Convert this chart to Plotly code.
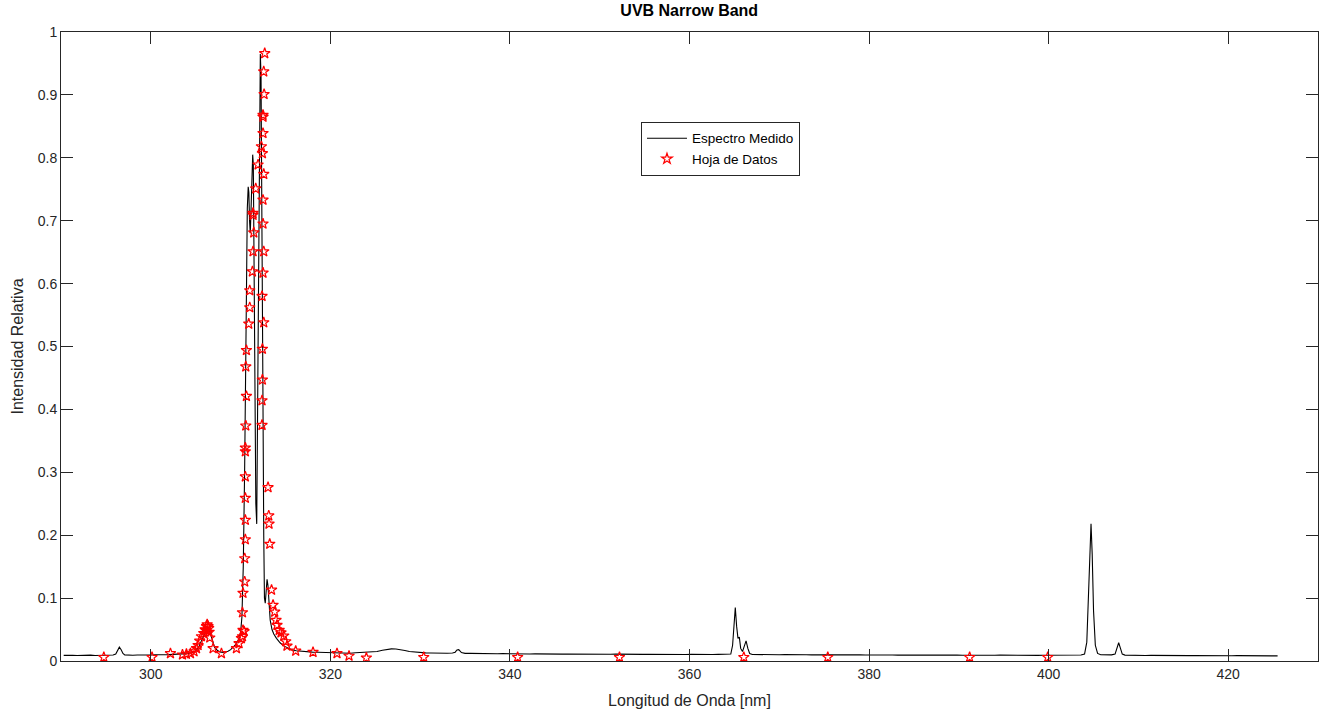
import plotly.graph_objects as go

# Espectro medido: longitud de onda [nm] e intensidad relativa
wl_medido = [
    290.3, 290.8, 291.3, 291.8, 292.3, 292.8, 293.3, 293.8, 294.3, 294.8,
    295.3, 295.8, 296.1, 296.3, 296.5, 296.7, 296.9, 297.1, 297.5, 298.0,
    298.5, 299.0, 299.5, 300.0, 300.5, 301.0, 301.5, 302.0, 302.5, 303.0,
    303.5, 304.0, 304.5, 305.0, 305.3, 305.6, 305.9, 306.1, 306.3, 306.5,
    306.7, 306.9, 307.1, 307.4, 307.7, 308.0, 308.3, 308.6, 308.9, 309.2,
    309.5, 309.8, 310.0, 310.15, 310.3, 310.45, 310.55, 310.65, 310.75, 310.85,
    310.92, 311.0, 311.08, 311.15, 311.25, 311.35, 311.42, 311.5, 311.6, 311.7,
    311.8, 311.9, 312.0, 312.1, 312.2, 312.28, 312.38, 312.48, 312.58, 312.66,
    312.75, 312.85, 312.95, 313.05, 313.15, 313.3, 313.5, 313.7, 314.0, 314.4,
    314.8, 315.2, 315.7, 316.2, 316.8, 317.4, 318.0, 318.6, 319.2, 319.8,
    320.4, 321.0, 321.6, 322.2, 322.8, 323.4, 324.0, 324.6, 325.2, 325.8,
    326.3, 326.8, 327.3, 327.8, 328.3, 328.8, 329.4, 330.0, 330.6, 331.2,
    331.8, 332.4, 333.0, 333.6, 333.9, 334.1, 334.3, 334.6, 335.0, 335.6,
    336.2, 336.8, 337.4, 338.0, 338.6, 339.2, 339.8, 340.4, 341.0, 341.6,
    342.2, 342.8, 343.4, 344.0, 344.6, 345.2, 345.8, 346.4, 347.0, 347.6,
    348.2, 348.8, 349.4, 350.0, 350.6, 351.2, 351.8, 352.4, 353.0, 353.6,
    354.2, 354.8, 355.4, 356.0, 356.6, 357.2, 357.8, 358.4, 359.0, 359.6,
    360.2, 360.8, 361.4, 362.0, 362.6, 363.2, 363.8, 364.3, 364.6, 364.8,
    364.95, 365.1, 365.25, 365.4, 365.55, 365.7, 365.9, 366.1, 366.3, 366.5,
    366.7, 367.0, 367.6, 368.2, 368.8, 369.4, 370.0, 370.6, 371.2, 371.8,
    372.4, 373.0, 373.6, 374.2, 374.8, 375.4, 376.0, 376.6, 377.2, 377.8,
    378.4, 379.0, 379.6, 380.2, 380.8, 381.4, 382.0, 382.6, 383.2, 383.8,
    384.4, 385.0, 385.6, 386.2, 386.8, 387.4, 388.0, 388.6, 389.2, 389.8,
    390.4, 391.0, 391.6, 392.2, 392.8, 393.4, 394.0, 394.6, 395.2, 395.8,
    396.4, 397.0, 397.6, 398.2, 398.8, 399.4, 400.0, 400.6, 401.2, 401.8,
    402.4, 403.0, 403.6, 404.0, 404.25, 404.45, 404.6, 404.72, 404.85, 405.0,
    405.2, 405.45, 405.8, 406.2, 406.6, 407.0, 407.4, 407.6, 407.8, 408.0,
    408.2, 408.5, 409.0, 409.6, 410.2, 410.8, 411.4, 412.0, 412.6, 413.2,
    413.8, 414.4, 415.0, 415.6, 416.2, 416.8, 417.4, 418.0, 418.6, 419.2,
    419.8, 420.4, 421.0, 421.6, 422.2, 422.8, 423.4, 424.0, 424.6, 425.2,
    425.5,
]
int_medido = [
    0.0090, 0.0095, 0.0089, 0.0087, 0.0092, 0.0089, 0.0093, 0.0088, 0.0091, 0.0093,
    0.0090, 0.0096, 0.0110, 0.0170, 0.0220, 0.0180, 0.0120, 0.0098, 0.0094, 0.0091,
    0.0096, 0.0093, 0.0098, 0.0095, 0.0099, 0.0094, 0.0100, 0.0101, 0.0103, 0.0106,
    0.0110, 0.0118, 0.0130, 0.0160, 0.0210, 0.0300, 0.0400, 0.0480, 0.0530, 0.0500,
    0.0400, 0.0300, 0.0220, 0.0170, 0.0145, 0.0138, 0.0141, 0.0155, 0.0180, 0.0220,
    0.0270, 0.0350, 0.0450, 0.0700, 0.1500, 0.3000, 0.4500, 0.6000, 0.7200, 0.7540,
    0.7450, 0.7000, 0.6800, 0.7100, 0.7800, 0.8050, 0.7900, 0.6200, 0.4000, 0.2500,
    0.2180, 0.4000, 0.6500, 0.8800, 0.9650, 0.9300, 0.7500, 0.4500, 0.2000, 0.1000,
    0.0920, 0.1100, 0.1300, 0.1200, 0.0900, 0.0650, 0.0500, 0.0430, 0.0360, 0.0290,
    0.0240, 0.0210, 0.0180, 0.0162, 0.0152, 0.0146, 0.0141, 0.0138, 0.0135, 0.0131,
    0.0133, 0.0128, 0.0127, 0.0124, 0.0130, 0.0134, 0.0136, 0.0140, 0.0150, 0.0170,
    0.0185, 0.0192, 0.0190, 0.0182, 0.0168, 0.0150, 0.0140, 0.0132, 0.0129, 0.0127,
    0.0124, 0.0126, 0.0123, 0.0128, 0.0140, 0.0175, 0.0180, 0.0135, 0.0122, 0.0121,
    0.0118, 0.0120, 0.0116, 0.0119, 0.0115, 0.0117, 0.0114, 0.0116, 0.0113, 0.0115,
    0.0112, 0.0114, 0.0111, 0.0113, 0.0110, 0.0112, 0.0109, 0.0112, 0.0110, 0.0108,
    0.0111, 0.0109, 0.0110, 0.0107, 0.0110, 0.0108, 0.0109, 0.0106, 0.0109, 0.0107,
    0.0108, 0.0105, 0.0108, 0.0106, 0.0107, 0.0104, 0.0107, 0.0105, 0.0106, 0.0104,
    0.0106, 0.0103, 0.0105, 0.0104, 0.0103, 0.0105, 0.0102, 0.0104, 0.0110, 0.0250,
    0.0600, 0.0850, 0.0550, 0.0360, 0.0380, 0.0200, 0.0150, 0.0250, 0.0320, 0.0200,
    0.0120, 0.0104, 0.0101, 0.0103, 0.0100, 0.0102, 0.0099, 0.0101, 0.0098, 0.0100,
    0.0097, 0.0100, 0.0098, 0.0099, 0.0096, 0.0099, 0.0097, 0.0098, 0.0095, 0.0098,
    0.0096, 0.0097, 0.0095, 0.0097, 0.0094, 0.0097, 0.0095, 0.0096, 0.0094, 0.0096,
    0.0093, 0.0096, 0.0094, 0.0095, 0.0093, 0.0095, 0.0092, 0.0095, 0.0093, 0.0094,
    0.0092, 0.0094, 0.0092, 0.0093, 0.0091, 0.0094, 0.0092, 0.0093, 0.0091, 0.0093,
    0.0090, 0.0093, 0.0091, 0.0092, 0.0090, 0.0092, 0.0091, 0.0092, 0.0090, 0.0092,
    0.0091, 0.0092, 0.0095, 0.0110, 0.0300, 0.1100, 0.1900, 0.2180, 0.1700, 0.0800,
    0.0250, 0.0120, 0.0100, 0.0097, 0.0096, 0.0098, 0.0110, 0.0200, 0.0290, 0.0200,
    0.0110, 0.0094, 0.0091, 0.0089, 0.0090, 0.0088, 0.0089, 0.0087, 0.0089, 0.0086,
    0.0088, 0.0086, 0.0087, 0.0085, 0.0087, 0.0085, 0.0086, 0.0084, 0.0086, 0.0084,
    0.0085, 0.0083, 0.0085, 0.0083, 0.0084, 0.0082, 0.0084, 0.0082, 0.0083, 0.0082,
    0.0081,
]

# Hoja de datos del fabricante (puntos discretos)
wl_hoja = [
    294.77, 300.14, 302.19, 303.53, 303.97, 304.42, 304.82, 305.09, 305.27, 305.45,
    305.64, 305.90, 306.05, 306.12, 306.20, 306.28, 306.38, 306.45, 306.50, 306.57,
    306.94, 307.87, 309.54, 309.83, 310.09, 310.21, 310.27, 310.21, 310.27, 310.39,
    310.46, 310.46, 310.53, 310.53, 310.53, 310.53, 310.53, 310.53, 310.58, 310.65,
    310.58, 310.65, 310.91, 311.02, 311.02, 311.32, 311.39, 311.47, 311.39, 311.39,
    311.69, 311.95, 312.32, 312.50, 312.58, 312.69, 312.62, 312.50, 312.50, 312.43,
    312.58, 312.50, 312.50, 312.58, 312.50, 312.39, 312.58, 312.43, 312.43, 312.39,
    312.39, 313.06, 313.14, 313.17, 313.25, 313.45, 313.62, 313.80, 313.95, 314.06,
    314.30, 314.50, 314.81, 315.03, 315.17, 316.14, 318.07, 320.74, 322.08, 324.01,
    330.40, 340.86, 352.20, 366.05, 375.40, 391.20, 399.90,
]
int_hoja = [
    0.006, 0.006, 0.012, 0.010, 0.011, 0.012, 0.015, 0.020, 0.025, 0.032,
    0.039, 0.044, 0.050, 0.049, 0.055, 0.058, 0.055, 0.052, 0.046, 0.037,
    0.020, 0.012, 0.020, 0.028, 0.036, 0.039, 0.049, 0.077, 0.108, 0.047,
    0.126, 0.163, 0.193, 0.224, 0.259, 0.293, 0.333, 0.339, 0.374, 0.421,
    0.468, 0.494, 0.536, 0.562, 0.589, 0.619, 0.651, 0.681, 0.709, 0.712,
    0.751, 0.789, 0.818, 0.865, 0.937, 0.966, 0.901, 0.868, 0.839, 0.807,
    0.774, 0.733, 0.695, 0.651, 0.617, 0.580, 0.538, 0.496, 0.447, 0.414,
    0.375, 0.276, 0.231, 0.218, 0.186, 0.113, 0.089, 0.078, 0.065, 0.057,
    0.049, 0.045, 0.040, 0.031, 0.024, 0.016, 0.014, 0.012, 0.008, 0.005,
    0.006, 0.006, 0.006, 0.006, 0.006, 0.006, 0.006,
]

x_ticks = [300, 320, 340, 360, 380, 400, 420]
y_ticks = [0, 0.1, 0.2, 0.3, 0.4, 0.5, 0.6, 0.7, 0.8, 0.9, 1]
y_tick_text = ["0", "0.1", "0.2", "0.3", "0.4", "0.5", "0.6", "0.7", "0.8", "0.9", "1"]

AX_COLOR = "#262626"
FONT = "Liberation Sans, Arial, Helvetica, sans-serif"

fig = go.Figure()
fig.add_trace(go.Scatter(
    x=wl_medido, y=int_medido, mode="lines", name="Espectro Medido",
    line=dict(color="black", width=1.1),
))
fig.add_trace(go.Scatter(
    x=wl_hoja, y=int_hoja, mode="markers", name="Hoja de Datos",
    marker=dict(symbol="star-open", size=8, color="red", line=dict(color="red", width=1.2)),
))

axis_common = dict(
    showgrid=False, zeroline=False, showline=True, linecolor=AX_COLOR, linewidth=1,
    mirror="ticks", ticks="inside", ticklen=12, tickcolor=AX_COLOR, tickwidth=1,
    tickfont=dict(family=FONT, size=14, color=AX_COLOR),
)

fig.update_layout(
    width=1328, height=719,
    margin=dict(l=61, r=10, t=32, b=58),
    paper_bgcolor="white", plot_bgcolor="white",
    title=dict(text="<b>UVB Narrow Band</b>", x=0.519, xanchor="center", y=0.993, yanchor="top",
               font=dict(family=FONT, size=16, color="black")),
    xaxis=dict(range=[290, 430], tickvals=x_ticks,
               title=dict(text="Longitud de Onda [nm]", font=dict(family=FONT, size=16, color=AX_COLOR), standoff=14),
               **axis_common),
    yaxis=dict(range=[0, 1], tickvals=y_ticks, ticktext=y_tick_text,
               title=dict(text="Intensidad Relativa", font=dict(family=FONT, size=16, color=AX_COLOR), standoff=10),
               **axis_common),
    legend=dict(x=0.4614, y=0.857, xanchor="left", yanchor="top",
                bgcolor="white", bordercolor=AX_COLOR, borderwidth=1,
                font=dict(family=FONT, size=13.5, color="black"),
                tracegroupgap=0, itemwidth=40),
    showlegend=True,
)

fig.write_html("out.html")
